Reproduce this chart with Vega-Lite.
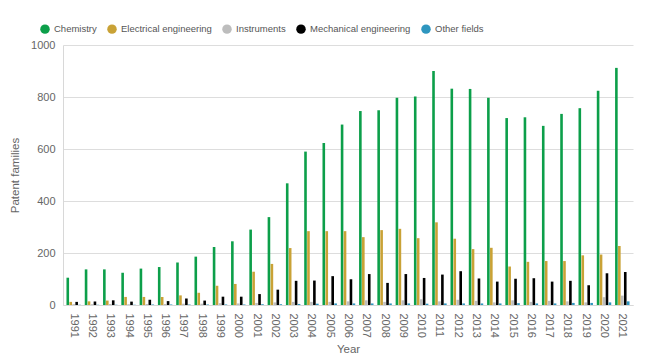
{
  "$schema": "https://vega.github.io/schema/vega-lite/v6.json",
  "width": 570,
  "height": 260,
  "autosize": "none",
  "padding": {"left": 63, "top": 45, "right": 13, "bottom": 54},
  "background": "white",
  "config": {
    "font": "Liberation Sans",
    "view": {"stroke": null},
    "axis": {"labelColor": "#666666", "titleColor": "#666666", "titleFontWeight": "normal", "labelFontSize": 11, "titleFontSize": 11.5, "gridColor": "#dddddd", "domainColor": "#d8d8d8"}
  },
  "data": {
    "values": [
      {"year": "1991", "field": "Chemistry", "value": 105}, {"year": "1991", "field": "Electrical engineering", "value": 12}, {"year": "1991", "field": "Instruments", "value": 3}, {"year": "1991", "field": "Mechanical engineering", "value": 12}, {"year": "1991", "field": "Other fields", "value": 1},
      {"year": "1992", "field": "Chemistry", "value": 137}, {"year": "1992", "field": "Electrical engineering", "value": 14}, {"year": "1992", "field": "Instruments", "value": 3}, {"year": "1992", "field": "Mechanical engineering", "value": 13}, {"year": "1992", "field": "Other fields", "value": 1},
      {"year": "1993", "field": "Chemistry", "value": 137}, {"year": "1993", "field": "Electrical engineering", "value": 17}, {"year": "1993", "field": "Instruments", "value": 4}, {"year": "1993", "field": "Mechanical engineering", "value": 18}, {"year": "1993", "field": "Other fields", "value": 1},
      {"year": "1994", "field": "Chemistry", "value": 124}, {"year": "1994", "field": "Electrical engineering", "value": 31}, {"year": "1994", "field": "Instruments", "value": 3}, {"year": "1994", "field": "Mechanical engineering", "value": 13}, {"year": "1994", "field": "Other fields", "value": 1},
      {"year": "1995", "field": "Chemistry", "value": 140}, {"year": "1995", "field": "Electrical engineering", "value": 31}, {"year": "1995", "field": "Instruments", "value": 4}, {"year": "1995", "field": "Mechanical engineering", "value": 20}, {"year": "1995", "field": "Other fields", "value": 2},
      {"year": "1996", "field": "Chemistry", "value": 146}, {"year": "1996", "field": "Electrical engineering", "value": 31}, {"year": "1996", "field": "Instruments", "value": 4}, {"year": "1996", "field": "Mechanical engineering", "value": 15}, {"year": "1996", "field": "Other fields", "value": 2},
      {"year": "1997", "field": "Chemistry", "value": 163}, {"year": "1997", "field": "Electrical engineering", "value": 37}, {"year": "1997", "field": "Instruments", "value": 5}, {"year": "1997", "field": "Mechanical engineering", "value": 25}, {"year": "1997", "field": "Other fields", "value": 2},
      {"year": "1998", "field": "Chemistry", "value": 186}, {"year": "1998", "field": "Electrical engineering", "value": 47}, {"year": "1998", "field": "Instruments", "value": 5}, {"year": "1998", "field": "Mechanical engineering", "value": 17}, {"year": "1998", "field": "Other fields", "value": 2},
      {"year": "1999", "field": "Chemistry", "value": 223}, {"year": "1999", "field": "Electrical engineering", "value": 74}, {"year": "1999", "field": "Instruments", "value": 7}, {"year": "1999", "field": "Mechanical engineering", "value": 32}, {"year": "1999", "field": "Other fields", "value": 2},
      {"year": "2000", "field": "Chemistry", "value": 245}, {"year": "2000", "field": "Electrical engineering", "value": 81}, {"year": "2000", "field": "Instruments", "value": 6}, {"year": "2000", "field": "Mechanical engineering", "value": 32}, {"year": "2000", "field": "Other fields", "value": 2},
      {"year": "2001", "field": "Chemistry", "value": 290}, {"year": "2001", "field": "Electrical engineering", "value": 128}, {"year": "2001", "field": "Instruments", "value": 8}, {"year": "2001", "field": "Mechanical engineering", "value": 42}, {"year": "2001", "field": "Other fields", "value": 3},
      {"year": "2002", "field": "Chemistry", "value": 338}, {"year": "2002", "field": "Electrical engineering", "value": 158}, {"year": "2002", "field": "Instruments", "value": 10}, {"year": "2002", "field": "Mechanical engineering", "value": 59}, {"year": "2002", "field": "Other fields", "value": 3},
      {"year": "2003", "field": "Chemistry", "value": 468}, {"year": "2003", "field": "Electrical engineering", "value": 219}, {"year": "2003", "field": "Instruments", "value": 12}, {"year": "2003", "field": "Mechanical engineering", "value": 93}, {"year": "2003", "field": "Other fields", "value": 4},
      {"year": "2004", "field": "Chemistry", "value": 590}, {"year": "2004", "field": "Electrical engineering", "value": 284}, {"year": "2004", "field": "Instruments", "value": 12}, {"year": "2004", "field": "Mechanical engineering", "value": 94}, {"year": "2004", "field": "Other fields", "value": 5},
      {"year": "2005", "field": "Chemistry", "value": 623}, {"year": "2005", "field": "Electrical engineering", "value": 284}, {"year": "2005", "field": "Instruments", "value": 12}, {"year": "2005", "field": "Mechanical engineering", "value": 111}, {"year": "2005", "field": "Other fields", "value": 6},
      {"year": "2006", "field": "Chemistry", "value": 694}, {"year": "2006", "field": "Electrical engineering", "value": 284}, {"year": "2006", "field": "Instruments", "value": 14}, {"year": "2006", "field": "Mechanical engineering", "value": 99}, {"year": "2006", "field": "Other fields", "value": 6},
      {"year": "2007", "field": "Chemistry", "value": 746}, {"year": "2007", "field": "Electrical engineering", "value": 261}, {"year": "2007", "field": "Instruments", "value": 18}, {"year": "2007", "field": "Mechanical engineering", "value": 119}, {"year": "2007", "field": "Other fields", "value": 6},
      {"year": "2008", "field": "Chemistry", "value": 749}, {"year": "2008", "field": "Electrical engineering", "value": 288}, {"year": "2008", "field": "Instruments", "value": 12}, {"year": "2008", "field": "Mechanical engineering", "value": 85}, {"year": "2008", "field": "Other fields", "value": 6},
      {"year": "2009", "field": "Chemistry", "value": 797}, {"year": "2009", "field": "Electrical engineering", "value": 293}, {"year": "2009", "field": "Instruments", "value": 18}, {"year": "2009", "field": "Mechanical engineering", "value": 119}, {"year": "2009", "field": "Other fields", "value": 6},
      {"year": "2010", "field": "Chemistry", "value": 802}, {"year": "2010", "field": "Electrical engineering", "value": 257}, {"year": "2010", "field": "Instruments", "value": 22}, {"year": "2010", "field": "Mechanical engineering", "value": 104}, {"year": "2010", "field": "Other fields", "value": 5},
      {"year": "2011", "field": "Chemistry", "value": 900}, {"year": "2011", "field": "Electrical engineering", "value": 318}, {"year": "2011", "field": "Instruments", "value": 14}, {"year": "2011", "field": "Mechanical engineering", "value": 117}, {"year": "2011", "field": "Other fields", "value": 6},
      {"year": "2012", "field": "Chemistry", "value": 832}, {"year": "2012", "field": "Electrical engineering", "value": 255}, {"year": "2012", "field": "Instruments", "value": 20}, {"year": "2012", "field": "Mechanical engineering", "value": 130}, {"year": "2012", "field": "Other fields", "value": 6},
      {"year": "2013", "field": "Chemistry", "value": 831}, {"year": "2013", "field": "Electrical engineering", "value": 215}, {"year": "2013", "field": "Instruments", "value": 16}, {"year": "2013", "field": "Mechanical engineering", "value": 102}, {"year": "2013", "field": "Other fields", "value": 6},
      {"year": "2014", "field": "Chemistry", "value": 797}, {"year": "2014", "field": "Electrical engineering", "value": 220}, {"year": "2014", "field": "Instruments", "value": 10}, {"year": "2014", "field": "Mechanical engineering", "value": 90}, {"year": "2014", "field": "Other fields", "value": 6},
      {"year": "2015", "field": "Chemistry", "value": 719}, {"year": "2015", "field": "Electrical engineering", "value": 148}, {"year": "2015", "field": "Instruments", "value": 18}, {"year": "2015", "field": "Mechanical engineering", "value": 101}, {"year": "2015", "field": "Other fields", "value": 7},
      {"year": "2016", "field": "Chemistry", "value": 722}, {"year": "2016", "field": "Electrical engineering", "value": 166}, {"year": "2016", "field": "Instruments", "value": 12}, {"year": "2016", "field": "Mechanical engineering", "value": 103}, {"year": "2016", "field": "Other fields", "value": 6},
      {"year": "2017", "field": "Chemistry", "value": 689}, {"year": "2017", "field": "Electrical engineering", "value": 169}, {"year": "2017", "field": "Instruments", "value": 16}, {"year": "2017", "field": "Mechanical engineering", "value": 90}, {"year": "2017", "field": "Other fields", "value": 6},
      {"year": "2018", "field": "Chemistry", "value": 735}, {"year": "2018", "field": "Electrical engineering", "value": 169}, {"year": "2018", "field": "Instruments", "value": 14}, {"year": "2018", "field": "Mechanical engineering", "value": 93}, {"year": "2018", "field": "Other fields", "value": 8},
      {"year": "2019", "field": "Chemistry", "value": 757}, {"year": "2019", "field": "Electrical engineering", "value": 191}, {"year": "2019", "field": "Instruments", "value": 10}, {"year": "2019", "field": "Mechanical engineering", "value": 76}, {"year": "2019", "field": "Other fields", "value": 8},
      {"year": "2020", "field": "Chemistry", "value": 824}, {"year": "2020", "field": "Electrical engineering", "value": 194}, {"year": "2020", "field": "Instruments", "value": 30}, {"year": "2020", "field": "Mechanical engineering", "value": 122}, {"year": "2020", "field": "Other fields", "value": 10},
      {"year": "2021", "field": "Chemistry", "value": 912}, {"year": "2021", "field": "Electrical engineering", "value": 227}, {"year": "2021", "field": "Instruments", "value": 36}, {"year": "2021", "field": "Mechanical engineering", "value": 127}, {"year": "2021", "field": "Other fields", "value": 14}
    ]
  },
  "mark": {"type": "bar"},
  "encoding": {
    "x": {
      "field": "year", "type": "ordinal", "title": "Year",
      "scale": {"paddingInner": 0.21, "paddingOuter": 0.19},
      "axis": {"labelAngle": 90, "ticks": false, "labelPadding": 8, "titlePadding": 6, "grid": false, "domain": true}
    },
    "xOffset": {"field": "field", "type": "nominal", "scale": {"paddingInner": 0.12}},
    "y": {
      "field": "value", "type": "quantitative", "title": "Patent families",
      "scale": {"domain": [0, 1000]},
      "axis": {"values": [0, 200, 400, 600, 800, 1000], "format": "d", "ticks": false, "labelPadding": 8, "titlePadding": 10, "domain": true}
    },
    "color": {
      "field": "field", "type": "nominal", "title": null,
      "scale": {
        "domain": ["Chemistry", "Electrical engineering", "Instruments", "Mechanical engineering", "Other fields"],
        "range": ["#0c9f4a", "#c9a236", "#bdbdbd", "#000000", "#2e96bf"]
      },
      "legend": {
        "orient": "none", "direction": "horizontal", "legendX": -23, "legendY": -21,
        "symbolType": "circle", "symbolSize": 90, "symbolStrokeWidth": 0, "symbolOpacity": 1,
        "labelFontSize": 9.5, "labelColor": "#555555", "labelOffset": 4, "columnPadding": 10
      }
    }
  }
}
